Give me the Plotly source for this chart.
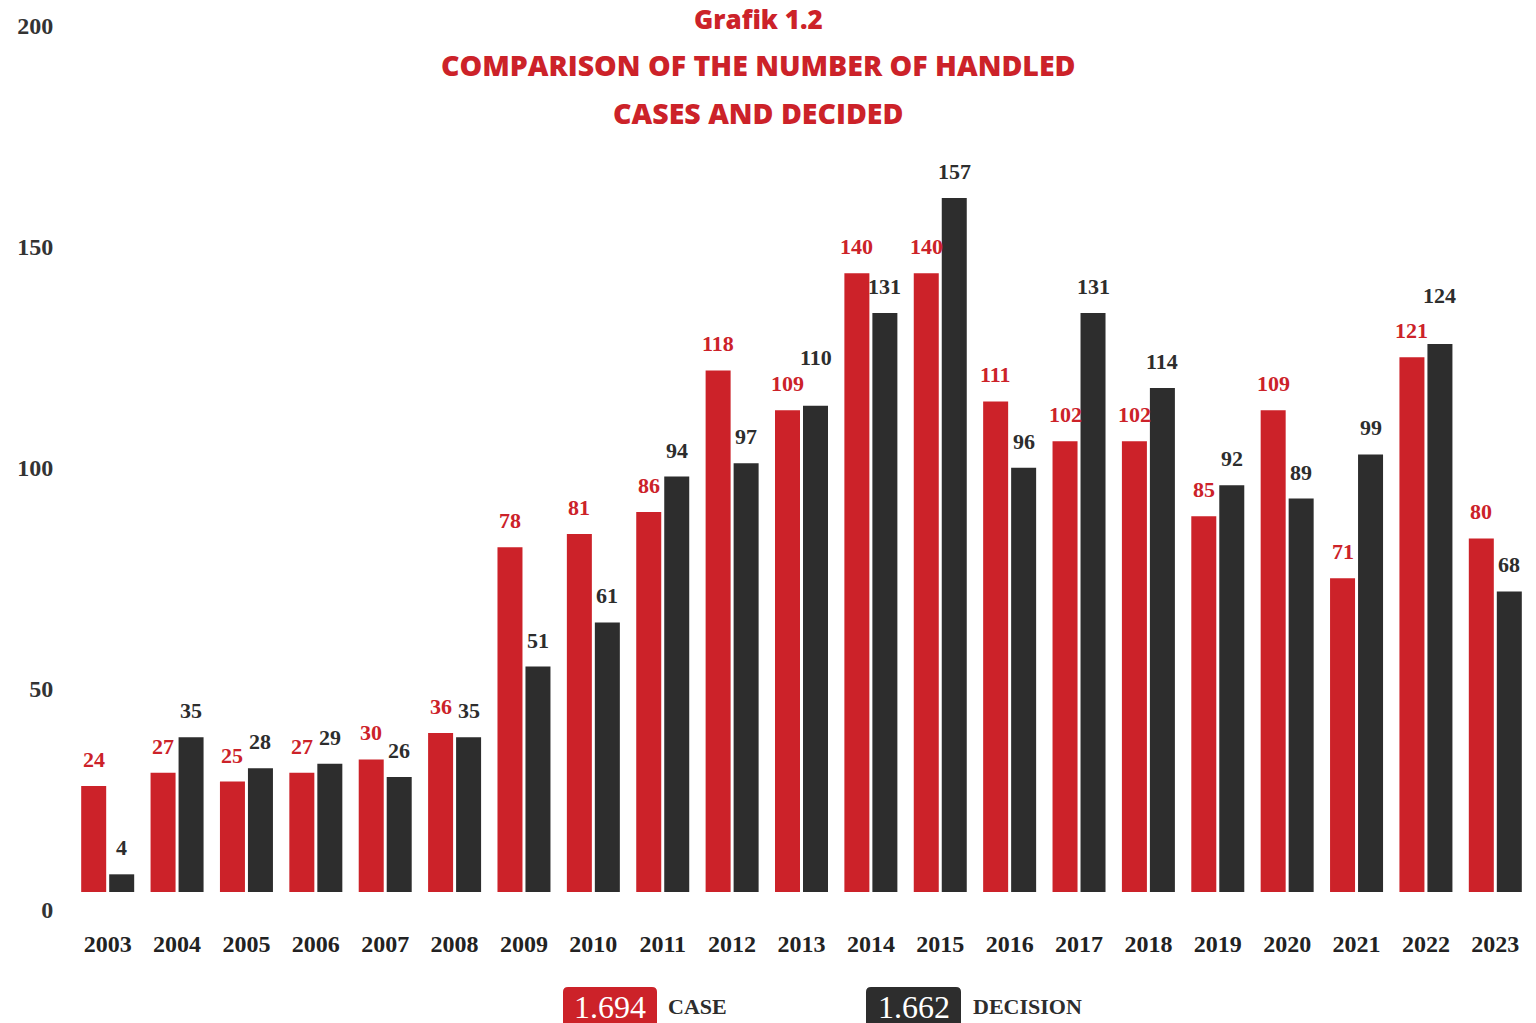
import plotly.graph_objects as go

years = [str(y) for y in range(2003, 2024)]
cases = [24, 27, 25, 27, 30, 36, 78, 81, 86, 118, 109, 140, 140, 111, 102, 102, 85, 109, 71, 121, 80]
decisions = [4, 35, 28, 29, 26, 35, 51, 61, 94, 97, 110, 131, 157, 96, 131, 114, 92, 89, 99, 124, 68]
y_ticks = [0, 50, 100, 150, 200]
title_lines = ["Grafik 1.2", "COMPARISON OF THE NUMBER OF HANDLED", "CASES AND DECIDED"]
total_case = "1.694"
total_decision = "1.662"
label_case = "CASE"
label_decision = "DECISION"

RED = "#CC2229"
BLACK = "#2D2D2D"
SERIF = "Liberation Serif"
TITLE_FONT = "Open Sans"

OFF = 8  # page body offset
PL, PR, PT, PB = 73 - OFF, 1530 - OFF, 8 - OFF, 892 - OFF

fig = go.Figure()
fig.add_trace(go.Bar(x=years, y=cases, name=label_case, marker_color=RED, marker_line_width=0))
fig.add_trace(go.Bar(x=years, y=decisions, name=label_decision, marker_color=BLACK, marker_line_width=0))

annotations = []
for i, (c, d) in enumerate(zip(cases, decisions)):
    # when both labels are three digits and nearly level, lift the higher one to avoid a clash
    close = c >= 100 and d >= 100 and abs(c - d) <= 5
    c_lift = 22 if (close and c > d) else 0
    d_lift = 22 if (close and d >= c) else 0
    annotations.append(dict(x=i, y=c, xref="x", yref="y", text=str(c), showarrow=False,
                            xshift=-14, yshift=12 + c_lift, yanchor="bottom",
                            font=dict(family=SERIF, size=22, color=RED, weight="bold")))
    annotations.append(dict(x=i, y=d, xref="x", yref="y", text=str(d), showarrow=False,
                            xshift=14, yshift=12 + d_lift, yanchor="bottom",
                            font=dict(family=SERIF, size=22, color=BLACK, weight="bold")))

def px_x(px):
    return (px - OFF - PL) / float(PR - PL)

def px_y(py):
    return (PB - (py - OFF)) / float(PB - PT)

# Title lines
for t, py, sz in zip(title_lines, [19, 65, 113], [26, 28.5, 28.5]):
    annotations.append(dict(x=px_x(758), y=px_y(py), xref="paper", yref="paper",
                            text=t, showarrow=False, yanchor="middle",
                            font=dict(family=TITLE_FONT, size=sz, color=RED, weight=800)))

def rounded_top_rect(x0, x1, y0, y1, r):
    return ("M {a},{b} L {a},{c} Q {a},{d} {e},{d} L {f},{d} Q {g},{d} {g},{c} L {g},{b} Z"
            .format(a=px_x(x0), b=px_y(y1), c=px_y(y0 + r), d=px_y(y0),
                    e=px_x(x0 + r), f=px_x(x1 - r), g=px_x(x1)))

shapes = []
for x0, x1, col in [(563, 657, RED), (866, 961, BLACK)]:
    shapes.append(dict(type="path", xref="paper", yref="paper",
                       path=rounded_top_rect(x0, x1, 987, 1040, 5),
                       fillcolor=col, line_width=0, layer="below"))

LEG_Y = px_y(1021)
NUM_Y = px_y(1027)
annotations.append(dict(x=px_x(610), y=NUM_Y, xref="paper", yref="paper", text=total_case,
                        showarrow=False, font=dict(family=SERIF, size=32, color="white")))
annotations.append(dict(x=px_x(666), y=LEG_Y, xref="paper", yref="paper", text="<b>%s</b>" % label_case,
                        showarrow=False, xanchor="left", font=dict(family=SERIF, size=22, color=BLACK)))
annotations.append(dict(x=px_x(913.5), y=NUM_Y, xref="paper", yref="paper", text=total_decision,
                        showarrow=False, font=dict(family=SERIF, size=32, color="white")))
annotations.append(dict(x=px_x(971), y=LEG_Y, xref="paper", yref="paper", text="<b>%s</b>" % label_decision,
                        showarrow=False, xanchor="left", font=dict(family=SERIF, size=22, color=BLACK)))

fig.update_layout(
    width=1536, height=1023,
    margin=dict(l=PL, r=1536 - PR, t=PT, b=1023 - PB, autoexpand=False),
    paper_bgcolor="white", plot_bgcolor="white",
    barmode="group", bargap=0.193, bargroupgap=0.107,
    showlegend=False,
    annotations=annotations,
    shapes=shapes,
)
fig.update_xaxes(type="category", range=[-0.5, 20.5], showgrid=False, zeroline=False, showline=False,
                 ticks="outside", ticklen=30, tickcolor="rgba(0,0,0,0)", automargin=False,
                 tickfont=dict(family=SERIF, size=24, color="#222222", weight="bold"))
fig.update_yaxes(range=[0, 200], tickvals=y_ticks, showgrid=False, zeroline=False, showline=False,
                 ticks="outside", ticklen=14, tickcolor="rgba(0,0,0,0)", ticklabelshift=18,
                 automargin=False,
                 tickfont=dict(family=SERIF, size=24, color="#333333", weight="bold"))

fig.write_html("out.html")
